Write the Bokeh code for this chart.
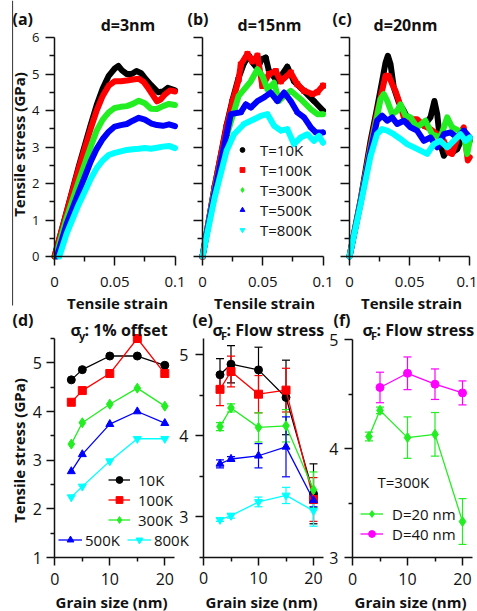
import math
from bokeh.plotting import figure
from bokeh.models import (Range1d, FixedTicker, Label, Legend, LegendItem, Whisker,
                          TeeHead, ColumnDataSource, LinearAxis, BoxAnnotation)
from bokeh.embed import file_html
from bokeh.resources import INLINE

FONT = "Open Sans"
INK = "#111111"

# ---------------- data ----------------
temps_long = ["T=10K", "T=100K", "T=300K", "T=500K", "T=800K"]
temps_short = ["10K", "100K", "300K", "500K", "800K"]
colors = ["#000000", "#FF0000", "#22EE22", "#0000FF", "#00FFFF"]
markers = ["circle", "square", "diamond", "triangle", "inverted_triangle"]

# (a) d = 3 nm : strain / stress (GPa)
a_x_10 = [0.0, 0.01, 0.02, 0.03, 0.035, 0.04, 0.045, 0.05, 0.053, 0.056, 0.06, 0.064, 0.068, 0.072, 0.076, 0.08, 0.083, 0.086, 0.09, 0.094, 0.1]
a_y_10 = [0.0, 1.22, 2.45, 3.6, 4.15, 4.6, 4.95, 5.15, 5.22, 5.1, 5.0, 5.0, 5.08, 5.02, 4.85, 4.7, 4.6, 4.5, 4.52, 4.62, 4.55]
a_x_100 = [0.0, 0.01, 0.02, 0.03, 0.035, 0.04, 0.045, 0.05, 0.055, 0.06, 0.065, 0.07, 0.074, 0.078, 0.082, 0.085, 0.088, 0.092, 0.096, 0.1]
a_y_100 = [0.0, 1.2, 2.4, 3.5, 4.0, 4.4, 4.68, 4.8, 4.8, 4.82, 4.85, 4.87, 4.78, 4.6, 4.4, 4.25, 4.3, 4.45, 4.55, 4.52]
a_x_300 = [0.001, 0.01, 0.02, 0.03, 0.035, 0.04, 0.045, 0.05, 0.055, 0.06, 0.065, 0.07, 0.075, 0.08, 0.085, 0.09, 0.095, 0.1]
a_y_300 = [0.0, 1.05, 2.05, 3.0, 3.45, 3.75, 3.95, 4.07, 4.1, 4.12, 4.18, 4.27, 4.2, 4.05, 4.04, 4.12, 4.18, 4.15]
a_x_500 = [0.002, 0.01, 0.02, 0.03, 0.035, 0.04, 0.045, 0.05, 0.055, 0.06, 0.065, 0.07, 0.075, 0.08, 0.085, 0.09, 0.095, 0.1]
a_y_500 = [0.0, 0.88, 1.75, 2.6, 2.95, 3.22, 3.42, 3.56, 3.6, 3.63, 3.72, 3.8, 3.75, 3.65, 3.6, 3.58, 3.62, 3.57]
a_x_800 = [0.004, 0.01, 0.02, 0.03, 0.035, 0.04, 0.045, 0.05, 0.055, 0.06, 0.065, 0.07, 0.075, 0.08, 0.085, 0.09, 0.095, 0.1]
a_y_800 = [0.0, 0.62, 1.42, 2.12, 2.42, 2.63, 2.78, 2.84, 2.88, 2.92, 2.94, 2.95, 2.97, 2.95, 2.98, 3.01, 3.03, 2.97]

# (b) d = 15 nm
b_x_10 = [0.0, 0.01, 0.02, 0.025, 0.03, 0.0345, 0.0387, 0.042, 0.0456, 0.049, 0.0525, 0.055, 0.0622, 0.0704, 0.0759, 0.0843, 0.0925, 0.1]
b_y_10 = [0.0, 1.9, 3.6, 4.3, 4.9, 5.3, 5.5, 5.3, 5.15, 5.4, 5.45, 5.1, 4.8, 5.2, 4.8, 4.53, 4.26, 4.0]
b_x_100 = [0.0, 0.01, 0.02, 0.025, 0.03, 0.0318, 0.0373, 0.0414, 0.0456, 0.0497, 0.0552, 0.0608, 0.065, 0.0732, 0.0787, 0.0843, 0.0912, 0.0953, 0.1]
b_y_100 = [0.0, 1.9, 3.55, 4.25, 4.85, 5.26, 5.55, 5.35, 5.5, 4.67, 5.0, 5.08, 4.8, 5.04, 4.72, 4.54, 4.45, 4.5, 4.68]
b_x_300 = [0.0, 0.01, 0.02, 0.03, 0.0401, 0.0456, 0.0497, 0.0539, 0.0594, 0.0635, 0.0677, 0.0732, 0.0815, 0.0898, 0.0953, 0.1]
b_y_300 = [0.0, 1.8, 3.3, 4.4, 4.8, 5.13, 4.95, 4.58, 4.76, 4.26, 4.4, 4.54, 4.31, 4.04, 3.9, 3.9]
b_x_500 = [0.0, 0.01, 0.02, 0.0235, 0.0318, 0.0359, 0.0401, 0.0456, 0.0511, 0.0566, 0.0622, 0.0677, 0.0732, 0.0787, 0.0843, 0.0898, 0.094, 0.1]
b_y_500 = [0.0, 1.75, 3.35, 3.9, 3.95, 4.17, 4.08, 4.26, 4.36, 4.49, 4.26, 4.49, 4.26, 3.95, 3.81, 3.54, 3.4, 3.4]
b_x_800 = [0.0, 0.01, 0.02, 0.0262, 0.0345, 0.0428, 0.0483, 0.0539, 0.0594, 0.065, 0.0704, 0.0759, 0.0815, 0.087, 0.0925, 0.0967, 0.1]
b_y_800 = [0.0, 1.6, 2.9, 3.35, 3.63, 3.76, 3.85, 3.9, 3.58, 3.45, 3.49, 3.08, 3.26, 3.35, 3.17, 3.3, 3.12]

# (c) d = 20 nm
c_x_10 = [0.0, 0.0091, 0.0175, 0.023, 0.0271, 0.0299, 0.0319, 0.0341, 0.0368, 0.041, 0.0452, 0.0507, 0.0562, 0.0618, 0.0673, 0.0706, 0.0729, 0.0756, 0.0784, 0.0812, 0.0853, 0.0895, 0.095, 0.1]
c_y_10 = [0.0, 1.53, 3.17, 4.08, 4.8, 5.3, 5.5, 5.27, 4.63, 4.22, 3.99, 3.63, 3.72, 3.58, 3.81, 4.26, 3.9, 3.08, 2.76, 2.9, 2.85, 2.94, 3.35, 3.17]
c_x_100 = [0.0, 0.0091, 0.0175, 0.023, 0.0299, 0.0327, 0.0355, 0.0382, 0.041, 0.0452, 0.0507, 0.0562, 0.0618, 0.0673, 0.0729, 0.0784, 0.0825, 0.0853, 0.0895, 0.095, 0.0983, 0.1]
c_y_100 = [0.0, 1.5, 3.05, 3.95, 4.95, 4.95, 4.72, 4.54, 4.27, 3.81, 3.76, 3.76, 3.58, 3.49, 3.35, 3.17, 2.85, 2.81, 3.22, 3.54, 2.63, 2.72]
c_x_300 = [0.0, 0.0091, 0.0175, 0.0258, 0.0285, 0.0313, 0.0355, 0.0396, 0.0424, 0.0465, 0.0507, 0.0562, 0.0631, 0.0687, 0.0756, 0.0812, 0.0853, 0.0909, 0.095, 0.0978, 0.1]
c_y_300 = [0.0, 1.48, 2.95, 4.31, 4.45, 4.27, 3.9, 3.99, 4.17, 3.86, 3.81, 3.54, 3.72, 3.35, 3.26, 3.81, 3.54, 3.45, 3.35, 2.81, 3.17]
c_x_500 = [0.0, 0.0091, 0.0175, 0.0229, 0.0271, 0.0313, 0.0355, 0.0396, 0.0452, 0.0507, 0.0562, 0.0618, 0.0673, 0.0729, 0.0784, 0.0839, 0.0895, 0.095, 0.1]
c_y_500 = [0.0, 1.45, 2.9, 3.72, 3.86, 3.72, 3.81, 3.63, 3.72, 3.54, 3.45, 3.17, 3.26, 2.99, 3.35, 3.4, 3.26, 3.45, 3.26]
c_x_800 = [0.0, 0.0091, 0.0175, 0.0229, 0.0271, 0.0313, 0.0368, 0.0424, 0.0479, 0.0535, 0.059, 0.0645, 0.0701, 0.0756, 0.0812, 0.0867, 0.0923, 0.0964, 0.1]
c_y_800 = [0.0, 1.4, 2.75, 3.35, 3.49, 3.45, 3.35, 3.22, 3.08, 2.99, 2.9, 2.81, 3.08, 3.17, 2.99, 3.17, 3.35, 3.17, 3.26]

# (d) yield stress, 1% offset
grain = [3, 5, 10, 15, 20]
d_10 = [4.65, 4.86, 5.14, 5.14, 4.95]
d_100 = [4.19, 4.43, 4.78, 5.5, 4.78]
d_300 = [3.33, 3.77, 4.15, 4.48, 4.11]
d_500 = [2.77, 3.12, 3.74, 4.0, 3.76]
d_800 = [2.24, 2.46, 2.98, 3.44, 3.44]

# (e) flow stress, mean and error
e_10 = [4.75, 4.88, 4.81, 4.47, 3.28]
e_10_err = [0.2, 0.23, 0.28, 0.46, 0.37]
e_100 = [4.57, 4.79, 4.51, 4.56, 3.21]
e_100_err = [0.2, 0.19, 0.23, 0.27, 0.27]
e_300 = [4.11, 4.34, 4.10, 4.12, 3.33]
e_300_err = [0.05, 0.05, 0.18, 0.2, 0.22]
e_500 = [3.65, 3.71, 3.75, 3.86, 3.2]
e_500_err = [0.05, 0.03, 0.15, 0.37, 0.08]
e_800 = [2.96, 3.01, 3.18, 3.26, 3.07]
e_800_err = [0.02, 0.03, 0.06, 0.1, 0.19]

# (f) flow stress at T=300K, two pillar diameters
f_x_D20 = [3, 5, 10, 15, 20]
f_D20 = [4.11, 4.35, 4.10, 4.13, 3.33]
f_D20_err = [0.04, 0.03, 0.19, 0.2, 0.21]
f_x_D40 = [5, 10, 15, 20]
f_D40 = [4.56, 4.69, 4.59, 4.51]
f_D40_err = [0.14, 0.15, 0.14, 0.11]

# ---------------- canvas: one figure, default ranges = canvas pixels ----------------
W, H = 477, 611
PX0, PX1 = 0, W
PY0, PY1 = 0, H

p = figure(width=W, height=H, x_range=Range1d(PX0, PX1), y_range=Range1d(PY1, PY0),
           x_axis_type=None, y_axis_type=None, output_backend="svg",
           toolbar_location=None, title=None,
           min_border_left=0, min_border_right=0, min_border_top=0, min_border_bottom=0)
p.outline_line_color = None
p.background_fill_color = "white"
p.border_fill_color = "white"

# panel placement: (px at d0, px at d1), (d0, d1) for x, then the same for y
panels = {
    "a": ((54, 174.5), (0, 0.1), (256, 37), (0, 6)),
    "b": ((202, 322.5), (0, 0.1), (256, 37), (0, 6)),
    "c": ((349, 469.3), (0, 0.1), (256, 37), (0, 6)),
    "d": ((54.3, 164.3), (0, 20), (557, 338), (1, 5.5)),
    "e": ((203, 313), (0, 20), (435, 354), (4, 5)),
    "f": ((352, 462), (0, 20), (557, 339), (3, 5)),
}
exr, eyr = {}, {}
for name, (xp, xd, yp, yd) in panels.items():
    kx = (xd[1] - xd[0]) / (xp[1] - xp[0])
    exr[name] = Range1d(xd[0] + (PX0 - xp[0]) * kx, xd[0] + (PX1 - xp[0]) * kx)
    ky = (yd[1] - yd[0]) / (yp[1] - yp[0])
    eyr[name] = Range1d(yd[0] + (PY1 - yp[0]) * ky, yd[0] + (PY0 - yp[0]) * ky)
p.extra_x_ranges = exr
p.extra_y_ranges = eyr


def style_axis(ax, tick_out, minor_out, size, standoff):
    ax.axis_line_width = 1.5
    ax.axis_line_color = INK
    ax.major_tick_line_width = 1.5
    ax.minor_tick_line_width = 1.5
    ax.major_tick_line_color = INK
    ax.minor_tick_line_color = INK
    ax.major_tick_in = 0
    ax.minor_tick_in = 0
    ax.major_tick_out = tick_out
    ax.minor_tick_out = minor_out
    ax.major_label_text_font = FONT
    ax.major_label_text_font_size = size
    ax.major_label_text_color = INK
    ax.major_label_standoff = standoff


def add_axes(name, xb, xticks, xminor, yb, yticks, yminor, top_row, ystandoff=6,
             ylabels=True, xover=None):
    xa = LinearAxis(x_range_name=name, y_range_name=name, fixed_location=yb[0],
                    bounds=xb, ticker=FixedTicker(ticks=xticks, minor_ticks=xminor))
    ya = LinearAxis(x_range_name=name, y_range_name=name, fixed_location=xb[0],
                    bounds=yb, ticker=FixedTicker(ticks=yticks, minor_ticks=yminor))
    if top_row:
        style_axis(xa, 9, 5, "15px", 11)
        style_axis(ya, 9, 5, "13px", ystandoff)
    else:
        style_axis(xa, 8, 4, "16px", 7)
        style_axis(ya, 8, 4, "16px", ystandoff)
    if xover:
        xa.major_label_overrides = xover
    if not ylabels:
        ya.major_label_overrides = {t: "" for t in yticks}
    p.add_layout(xa, "below")
    p.add_layout(ya, "left")


def text(x, y, s, size_px, bold=True, align="left", rotated=False):
    # (x, y) is the wanted alphabetic baseline point; compensate the label box offset
    shift = 0.355 * size_px
    if rotated:
        x, ang = x - shift, math.pi / 2
    else:
        y, ang = y - shift, 0.0
    p.add_layout(Label(x=x, y=y, text=s, text_font=FONT, text_font_size=f"{size_px}px",
                       text_font_style="bold" if bold else "normal", text_color=INK,
                       text_align=align, text_baseline="alphabetic", angle=ang))


def style_legend(leg, size, gw, gh, standoff, spacing):
    leg.background_fill_alpha = 0
    leg.border_line_alpha = 0
    leg.padding = 0
    leg.margin = 0
    leg.spacing = spacing
    leg.glyph_width = gw
    leg.glyph_height = gh
    leg.label_height = gh
    leg.label_standoff = standoff
    leg.label_text_font = FONT
    leg.label_text_font_size = size
    leg.label_text_color = INK


def loc(px_left, px_bottom):
    # legend location: offset of its bottom-left corner from the canvas bottom-left
    return (px_left - PX0, PY1 - px_bottom)


# ---------------- top row: stress-strain ----------------
curves = {
    "a": [(a_x_10, a_y_10), (a_x_100, a_y_100), (a_x_300, a_y_300), (a_x_500, a_y_500), (a_x_800, a_y_800)],
    "b": [(b_x_10, b_y_10), (b_x_100, b_y_100), (b_x_300, b_y_300), (b_x_500, b_y_500), (b_x_800, b_y_800)],
    "c": [(c_x_10, c_y_10), (c_x_100, c_y_100), (c_x_300, c_y_300), (c_x_500, c_y_500), (c_x_800, c_y_800)],
}
strain_over = {0: "0", 0.05: "0.05", 0.1: "0.1"}
b_items = []
for key in ["a", "b", "c"]:
    add_axes(key, (0, 0.1), [0, 0.05, 0.1], [0.025, 0.075], (0, 6), list(range(7)),
             [0.5, 1.5, 2.5, 3.5, 4.5, 5.5], True, ylabels=(key == "a"), xover=strain_over)
    for (xs, ys), c, m, t in zip(curves[key], colors, markers, temps_long):
        p.line(xs, ys, line_color=c, line_width=6, line_join="round", line_cap="round",
               x_range_name=key, y_range_name=key)
        if key == "b":
            r = p.scatter(xs, ys, marker=m, fill_color=c, line_color=c, size=5,
                          x_range_name=key, y_range_name=key)
            b_items.append(LegendItem(label=t, renderers=[r]))

legb = Legend(items=b_items, location=loc(236, 239.5))
style_legend(legb, "15px", 12, 17, 12, -4)
p.add_layout(legb)

for lab, lx, tt, tx in [("(a)", 12, "d=3nm", 127.5), ("(b)", 187, "d=15nm", 269),
                        ("(c)", 332, "d=20nm", 405)]:
    text(lx, 24, lab, 16)
    text(tx, 30.5, tt, 16, align="center")
for cx in [117, 264, 411]:
    text(cx, 307.5, "Tensile strain", 15, align="center")
text(23.7, 144, "Tensile stress (GPa)", 15, align="center", rotated=True)

# thin frame line at the far left of the top row
p.add_layout(BoxAnnotation(left=11.5, right=12.6, top=0, bottom=305,
                           fill_color="#444444", fill_alpha=1, line_alpha=0))

# ---------------- (d) ----------------
add_axes("d", (0, 21.8), [0, 10, 20], [5, 15], (1, 5.5), [1, 2, 3, 4, 5],
         [1.5, 2.5, 3.5, 4.5, 5.5], False, ystandoff=5)
d_series = [d_10, d_100, d_300, d_500, d_800]
d_items = []
for ys, c, m, lab in zip(d_series, colors, markers, temps_short):
    lr = p.line(grain, ys, line_color=c, line_width=1.3, x_range_name="d", y_range_name="d")
    sz = 10 if m == "diamond" else 8
    sr = p.scatter(grain, ys, marker=m, size=sz, fill_color=c, line_color=c,
                   x_range_name="d", y_range_name="d")
    d_items.append(LegendItem(label=lab, renderers=[lr, sr]))
leg1 = Legend(items=d_items[:3], location=loc(108, 529.5))
style_legend(leg1, "15px", 22, 17, 8, -3)
p.add_layout(leg1)
leg2 = Legend(items=d_items[3:], location=loc(58, 549.5), orientation="horizontal")
style_legend(leg2, "15px", 24, 17, 3, 7)
p.add_layout(leg2)

# ---------------- (e) ----------------
add_axes("e", (0, 21.8), [0, 10, 20], [5, 15], (2.5, 5.2), [3, 4, 5], [2.5, 3.5, 4.5],
         False, ystandoff=7)
e_series = [(e_10, e_10_err), (e_100, e_100_err), (e_300, e_300_err),
            (e_500, e_500_err), (e_800, e_800_err)]
for (ys, es), c, m in zip(e_series, colors, markers):
    src = ColumnDataSource(dict(x=grain, upper=[v + e for v, e in zip(ys, es)],
                                lower=[v - e for v, e in zip(ys, es)]))
    p.add_layout(Whisker(source=src, base="x", upper="upper", lower="lower",
                         dimension="height", line_color=c, line_width=1.2,
                         x_range_name="e", y_range_name="e",
                         upper_head=TeeHead(size=8, line_color=c, line_width=1.2),
                         lower_head=TeeHead(size=8, line_color=c, line_width=1.2)))
    p.line(grain, ys, line_color=c, line_width=1.3, x_range_name="e", y_range_name="e")
    sz = 10 if m == "diamond" else 8
    p.scatter(grain, ys, marker=m, size=sz, fill_color=c, line_color=c,
              x_range_name="e", y_range_name="e")

# ---------------- (f) ----------------
add_axes("f", (0, 21.9), [0, 10, 20], [5, 15], (3, 5), [3, 4, 5], [3.5, 4.5], False,
         ystandoff=6)
f_items = []
for xs, ys, es, c, m, lab in [(f_x_D20, f_D20, f_D20_err, "#22EE22", "diamond", "D=20 nm"),
                              (f_x_D40, f_D40, f_D40_err, "#FF00FF", "circle", "D=40 nm")]:
    src = ColumnDataSource(dict(x=xs, upper=[v + e for v, e in zip(ys, es)],
                                lower=[v - e for v, e in zip(ys, es)]))
    p.add_layout(Whisker(source=src, base="x", upper="upper", lower="lower",
                         dimension="height", line_color=c, line_width=1.2,
                         x_range_name="f", y_range_name="f",
                         upper_head=TeeHead(size=8, line_color=c, line_width=1.2),
                         lower_head=TeeHead(size=8, line_color=c, line_width=1.2)))
    lr = p.line(xs, ys, line_color=c, line_width=1.3, x_range_name="f", y_range_name="f")
    sz = 10 if m == "diamond" else 8
    sr = p.scatter(xs, ys, marker=m, size=sz, fill_color=c, line_color=c,
                   x_range_name="f", y_range_name="f")
    f_items.append(LegendItem(label=lab, renderers=[lr, sr]))
legf = Legend(items=f_items, location=loc(360, 543.5))
style_legend(legf, "15px", 23, 17, 9, -2)
p.add_layout(legf)
text(377, 487, "T=300K", 15, bold=False)

# ---------------- bottom titles and axis labels ----------------
for lab, lx in [("(d)", 12), ("(e)", 192), ("(f)", 333)]:
    text(lx, 325, lab, 16)
for sx, sub, rest in [(70, "y", ": 1% offset"), (212, "F", ": Flow stress"),
                      (362, "F", ": Flow stress")]:
    text(sx, 335, "σ", 16)
    text(sx + 8.5, 338.5, sub, 11)
    text(sx + 14, 335, rest, 16)
for cx in [111, 261, 410]:
    text(cx, 606.5, "Grain size (nm)", 15, align="center")
text(23.7, 450, "Tensile stress (GPa)", 15, align="center", rotated=True)

open("out.html", "w").write(file_html(p, INLINE))
